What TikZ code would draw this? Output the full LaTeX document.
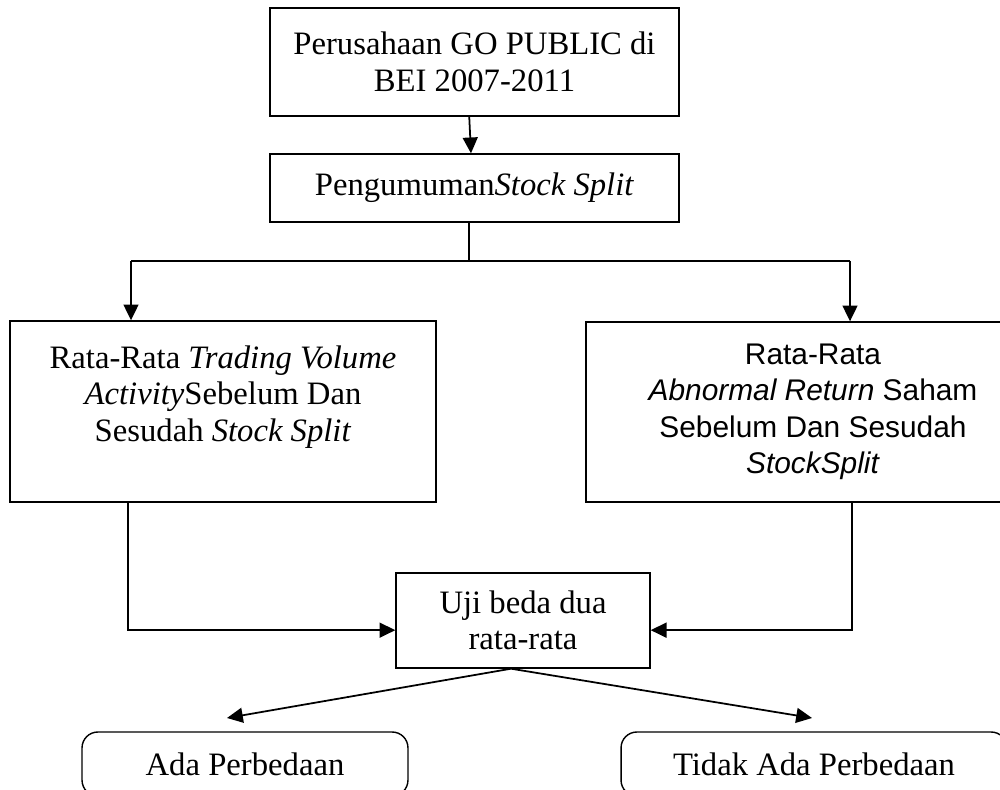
\documentclass[tikz,border=0pt]{standalone}
\usepackage{fontspec}
\setmainfont{Liberation Serif}
\newfontfamily\arialfont{Liberation Sans}
\usetikzlibrary{arrows.meta}

\begin{document}
\begin{tikzpicture}[x=0.02cm,y=-0.02cm]
\tikzstyle{every node}=[inner sep=0pt, align=center, font=\fontsize{18.6}{20.8}\selectfont]
\tikzstyle{box}=[draw, line width=0.8pt]
\tikzstyle{roundbox}=[draw, line width=0.8pt, rounded corners=9pt]
\tikzstyle{arrow}=[line width=1pt, -{Triangle[length=9pt,width=8.5pt]}]
\tikzstyle{link}=[line width=1pt]
\useasboundingbox (0,0) rectangle (1000,790);
\clip (0,0) rectangle (1000,790);
% boxes
\draw (474.5,62) node (company) [box, minimum width=8.18cm, minimum height=2.16cm] {Perusahaan GO PUBLIC di\\BEI 2007-2011};
\draw (474.5,188) node (announce) [box, minimum width=8.18cm, minimum height=1.36cm] {Pengumuman\textit{Stock Split}};
\draw (223,411.5) node (volume) [box, minimum width=8.52cm, minimum height=3.62cm] {Rata-Rata \textit{Trading Volume}\\\textit{Activity}Sebelum Dan\\Sesudah \textit{Stock Split}\\~};
\draw (813,412) node (abnormal) [box, minimum width=9.08cm, minimum height=3.6cm, font=\arialfont\fontsize{17}{20.8}\selectfont] {Rata-Rata\\\textit{Abnormal Return} Saham\\Sebelum Dan Sesudah\\\textit{StockSplit}};
\draw (523,620.5) node (uji) [box, minimum width=5.08cm, minimum height=1.9cm] {Uji beda dua\\rata-rata};
\draw (245,764) node (ada) [roundbox, minimum width=6.52cm, minimum height=1.28cm] {Ada Perbedaan};
\draw (814,764) node (tidak) [roundbox, minimum width=7.72cm, minimum height=1.28cm] {Tidak Ada Perbedaan};
% connectors
\coordinate (split) at (469,261);
\coordinate (lft) at (131,261);
\coordinate (rgt) at (850,261);
\coordinate (adain) at (227,718);
\coordinate (tidakin) at (812,718);
\draw[arrow] ([xshift=-3pt]company.south) -- ([xshift=-2pt]announce.north);
\draw[link] (announce.south -| split) -- (split);
\draw[link] (lft) -- (rgt);
\draw[arrow] (lft) -- (lft |- volume.north);
\draw[arrow] (rgt) -- (rgt |- abnormal.north);
\draw[arrow] ([xshift=-1.7pt]volume.south -| lft) |- ([yshift=-5.5pt]uji.west);
\draw[arrow] ([xshift=1pt]abnormal.south -| rgt) |- ([yshift=-5.5pt]uji.east);
\draw[arrow] ([xshift=-6.8pt]uji.south) -- (adain);
\draw[arrow] ([xshift=-6.8pt]uji.south) -- (tidakin);
\end{tikzpicture}
\end{document}
